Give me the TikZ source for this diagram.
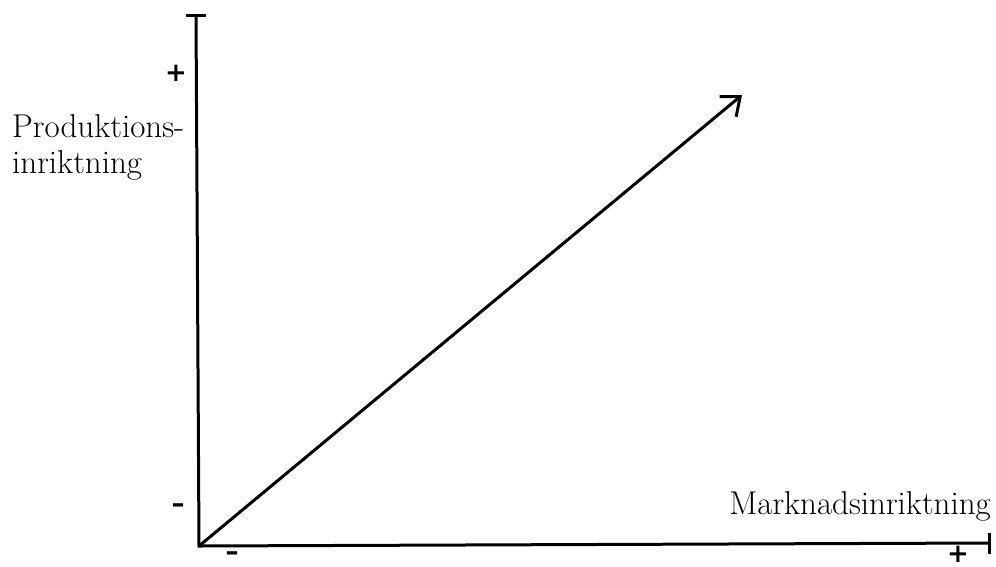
\documentclass[tikz,border=0pt]{standalone}
\usepackage{fontspec}
\newfontfamily\signfont{DejaVu Sans}
\usetikzlibrary{arrows.meta}
\begin{document}
\begin{tikzpicture}[x=1pt,y=-1pt,
  axis/.style={line width=3pt},
  lbl/.style={inner sep=0pt,font=\fontsize{33}{40}\selectfont},
  sign/.style={inner sep=0pt,font=\signfont\bfseries\fontsize{26}{26}\selectfont}]
\path[use as bounding box] (0,0) rectangle (996,566);
\coordinate (O) at (199,546);
\coordinate (Ytop) at (196,15);
\coordinate (Xend) at (989,543);
\coordinate (Tip) at (742,95);
% axes
\draw[axis] (Ytop) -- (O) -- (Xend);
\draw[axis] ([xshift=-10pt]Ytop) -- ([xshift=10pt]Ytop);
\draw[axis] ([yshift=-11pt]Xend) -- ([yshift=10pt]Xend);
% diagonal arrow
\draw[axis,-{Straight Barb[length=16pt,width=26pt,line width=3pt]}] (O) -- (Tip);
% labels
\node[lbl,anchor=base west] (p1) at (12,137) {Produktions-};
\node[lbl,anchor=base west] (p2) at (12,173) {inriktning};
\node[lbl,anchor=base east] (m) at (991,514) {Marknadsinriktning};
% signs
\node[sign] (yp) at (176,73) {+};
\node[sign] (ym) at (178,508) {–};
\node[sign] (xm) at (232,556) {–};
\node[sign] (xp) at (958,554) {+};
\end{tikzpicture}
\end{document}
